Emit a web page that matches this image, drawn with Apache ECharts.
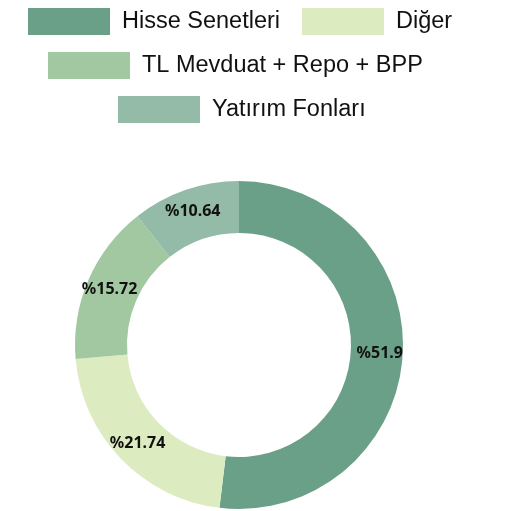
<!DOCTYPE html>
<html><head><meta charset="utf-8">
<script src="https://cdn.jsdelivr.net/npm/echarts@6/dist/echarts.min.js"></script>
<style>html,body{margin:0;padding:0;background:#fff}#c{width:509px;height:511px}</style>
</head><body><div id="c"></div>
<script>
const categories = ['Hisse Senetleri', 'Diğer', 'TL Mevduat + Repo + BPP', 'Yatırım Fonları'];
const values = [51.9, 21.74, 15.72, 10.64];
const colors = ['#6ba088', '#ddebc1', '#a2c8a1', '#93bba7'];

const legendBase = {
  orient: 'horizontal', icon: 'rect', padding: 0,
  itemWidth: 82, itemHeight: 27, itemGap: 22, selectedMode: false,
  textStyle: { fontFamily: 'Liberation Sans', fontSize: 23.5, color: '#111', padding: [3, 0, 0, 7] }
};
const chart = echarts.init(document.getElementById('c'), null, { renderer: 'canvas' });
chart.setOption({
  animation: false,
  color: colors,
  legend: [
    Object.assign({}, legendBase, { left: 28, top: 8, data: [categories[0], categories[1]] }),
    Object.assign({}, legendBase, { left: 48, top: 52, data: [categories[2]] }),
    Object.assign({}, legendBase, { left: 118, top: 96, data: [categories[3]] })
  ],
  series: [{
    type: 'pie',
    center: [239, 345],
    radius: [112, 164],
    startAngle: 90,
    clockwise: true,
    avoidLabelOverlap: false,
    label: {
      show: true, position: 'inside',
      formatter: p => '%' + p.value,
      fontFamily: 'Noto Sans', fontWeight: 'bold', fontSize: 16, color: '#111'
    },
    labelLine: { show: false },
    emphasis: { disabled: true },
    data: categories.map((n, i) => ({ name: n, value: values[i] }))
  }]
});
</script></body></html>
